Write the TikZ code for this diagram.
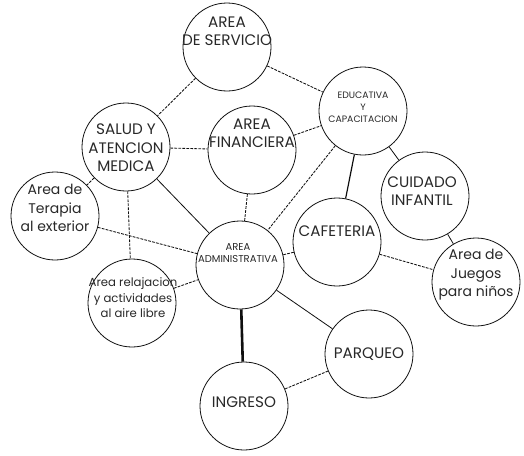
\documentclass[tikz,border=0pt]{standalone}
\usepackage{fontspec}
\setmainfont{Poppins}
\usepackage{xcolor}
\usepackage{tikz}
\definecolor{primary}{RGB}{15, 15, 15}
\definecolor{inkgray}{RGB}{40, 40, 40}
\tikzset{
  spot/.style={circle,draw=primary,minimum size=88pt,inner sep=0pt,line width=0.8pt},
  bigtxt/.style={align=center,text=inkgray,font=\fontsize{15.2}{18.5}\selectfont},
  lowtxt/.style={align=center,text=inkgray,font=\fontsize{14}{18.5}\selectfont},
  relajtxt/.style={align=center,text=inkgray,font=\fontsize{11.7}{15.5}\selectfont},
  smalltxt/.style={align=center,text=inkgray,font=\fontsize{9.3}{12}\selectfont},
  dashlink/.style={primary,line width=0.85pt,dash pattern=on 2.8pt off 1.2pt},
  link/.style={primary,line width=0.8pt},
  mainlink/.style={primary,line width=2.6pt},
}

\begin{document}
\begin{tikzpicture}[x=1pt,y=-1pt]
\useasboundingbox (0,0) rectangle (524,455);
% areas
\node[spot] (serv) at (227,47) {};
\node[spot] (educ) at (363,111) {};
\node[spot] (salud) at (126,147) {};
\node[spot] (finan) at (252,150) {};
\node[spot] (terap) at (55,216) {};
\node[spot] (cuid) at (425,196) {};
\node[spot] (cafe) at (337,242) {};
\node[spot] (admin) at (240,265) {};
\node[spot] (juegos) at (476,282) {};
\node[spot] (relaj) at (132,303) {};
\node[spot] (parq) at (369,354) {};
\node[spot] (ingr) at (244,406) {};
% names
\node[bigtxt] (serv-t) at (227,31) {AREA\\DE SERVICIO};
\node[smalltxt] (educ-t) at (363,107) {EDUCATIVA\\Y\\CAPACITACION};
\node[bigtxt] (salud-t) at (126,148) {SALUD Y\\ATENCION\\MEDICA};
\node[bigtxt] (finan-t) at (252,133) {AREA\\FINANCIERA};
\node[lowtxt] (terap-t) at (55,208) {Area de\\Terapia\\al exterior};
\node[bigtxt] (cuid-t) at (422,191) {CUIDADO\\INFANTIL};
\node[bigtxt] (cafe-t) at (337,231) {CAFETERIA};
\node[smalltxt,font=\fontsize{10}{12}\selectfont] (admin-t) at (238,253) {AREA\\ADMINISTRATIVA};
\node[lowtxt] (juegos-t) at (476,275) {Area de\\Juegos\\para niños};
\node[relajtxt] (relaj-t) at (133,298) {Area relajacion\\y actividades\\al aire libre};
\node[bigtxt] (parq-t) at (369,354) {PARQUEO};
\node[bigtxt] (ingr-t) at (244,402) {INGRESO};
% links
\draw[dashlink] (serv) -- (salud);
\draw[dashlink] (serv) -- (educ);
\draw[dashlink] (salud) -- (finan);
\draw[dashlink] (finan) -- (educ);
\draw[dashlink] (salud) -- (terap);
\draw[link] (salud) -- (admin);
\draw[dashlink] (salud) -- (relaj);
\draw[dashlink] (terap) -- (admin);
\draw[dashlink] (finan) -- (admin);
\draw[dashlink] (educ) -- (admin);
\draw[link,line width=1.2pt] (educ) -- (cafe);
\draw[link] (educ) -- (cuid);
\draw[dashlink] (cafe) -- (admin);
\draw[dashlink] (cafe) -- (juegos);
\draw[link] (cuid) -- (juegos);
\draw[dashlink] (relaj) -- (admin);
\draw[mainlink] (admin) -- (ingr);
\draw[link] (admin) -- (parq);
\draw[dashlink] (ingr) -- (parq);
\end{tikzpicture}
\end{document}
